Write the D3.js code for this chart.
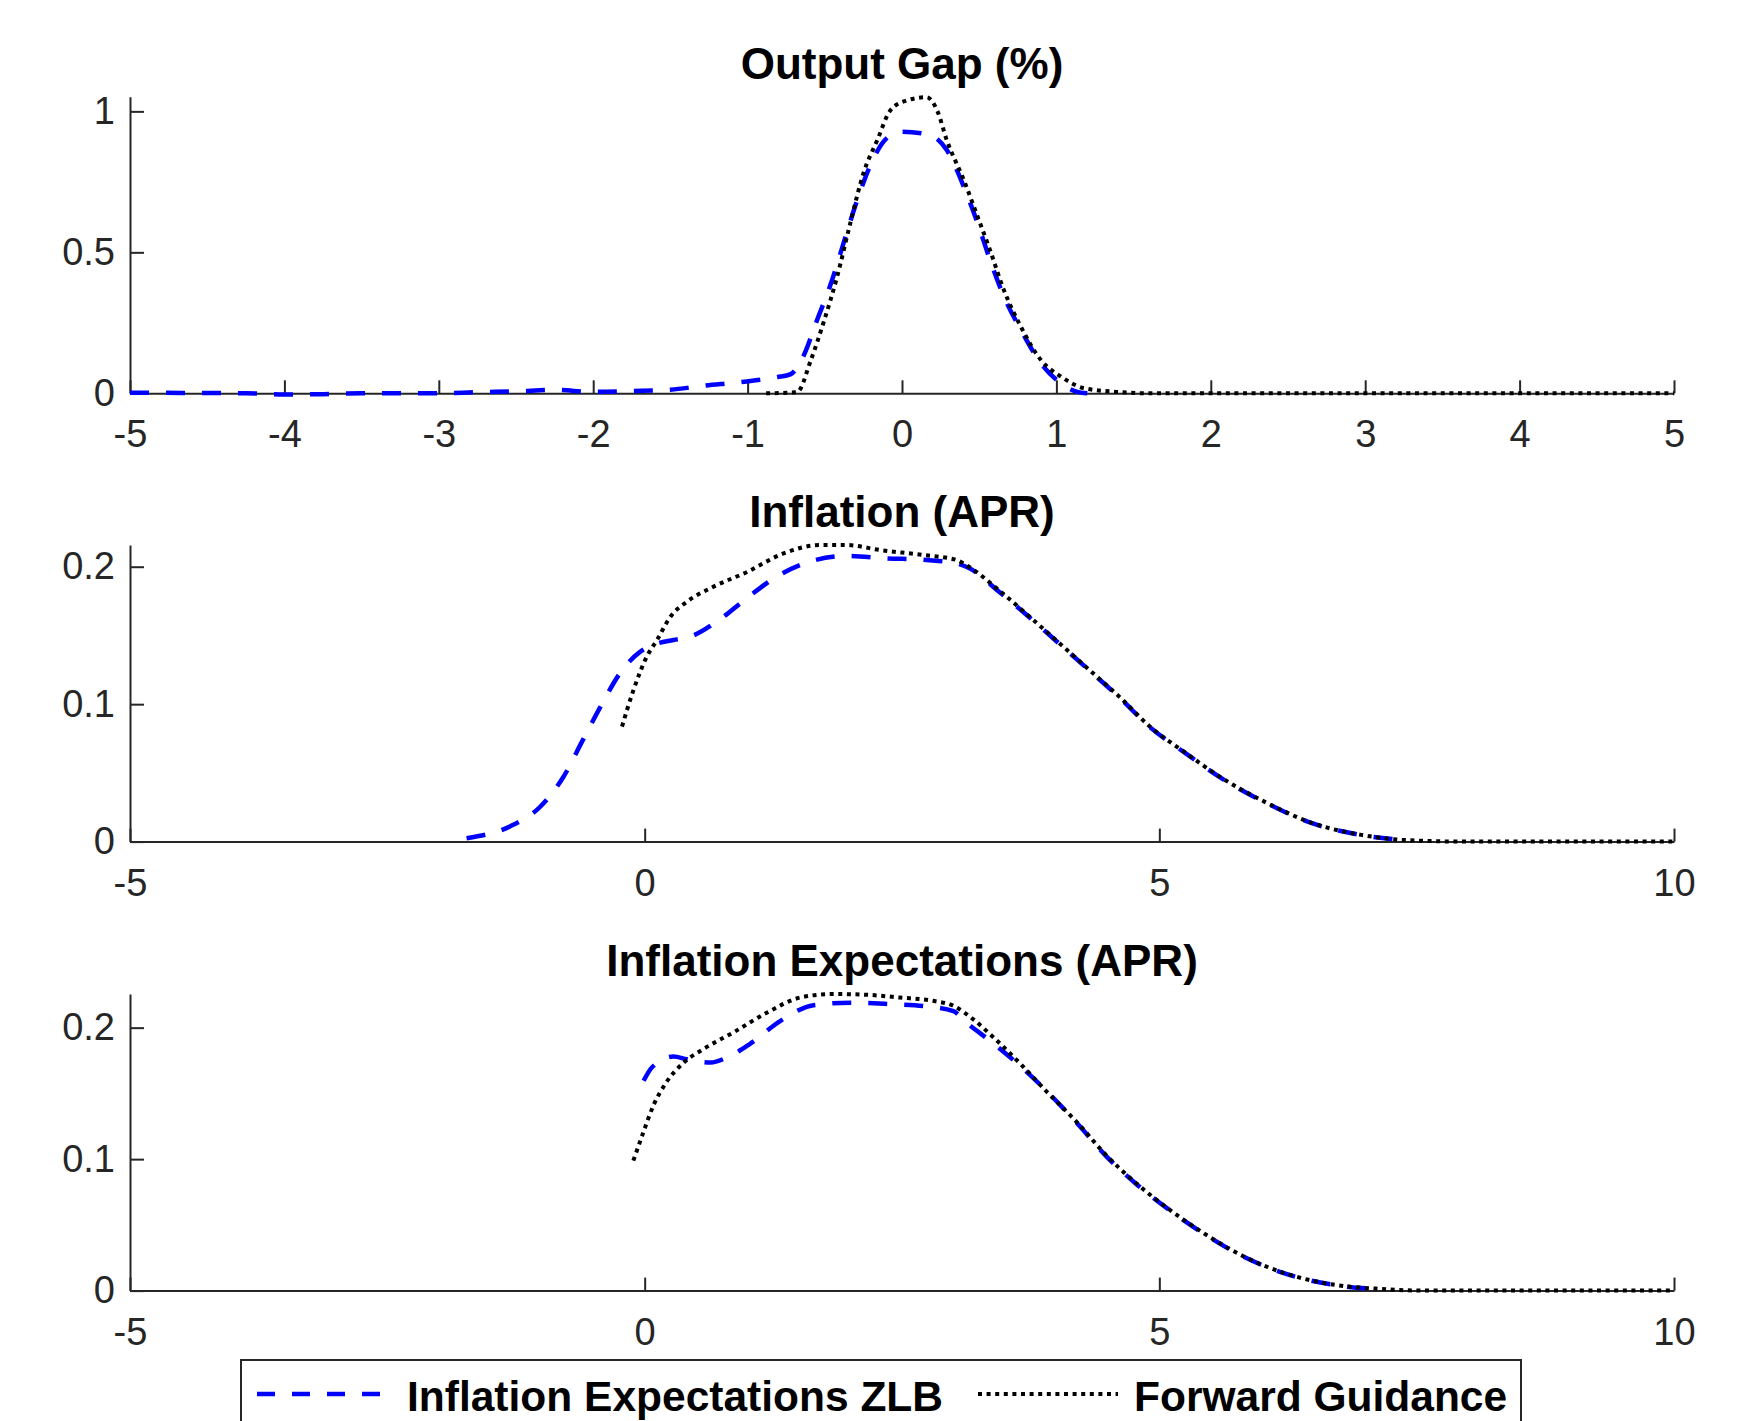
<!DOCTYPE html>
<html>
<head>
<meta charset="utf-8">
<script src="https://cdnjs.cloudflare.com/ajax/libs/d3/7.8.5/d3.min.js"></script>
<style>
  body { margin: 0; background: #ffffff; }
  svg { display: block; font-family: "Liberation Sans", Arial, Helvetica, sans-serif; }
</style>
</head>
<body>
<div id="chart"></div>
<script>
// ---- data: [x, value] pairs ----
var outputGapZLB = [[-5, 0.002], [-4.5, 0.001], [-4.25, 0.0], [-4, -0.004], [-3.75, -0.003], [-3.5, 0.0],
  [-3, 0.0], [-2.75, 0.004], [-2.5, 0.007], [-2.25, 0.012], [-2, 0.005], [-1.75, 0.008], [-1.5, 0.013],
  [-1.28, 0.027], [-1.04, 0.04], [-0.81, 0.057], [-0.72, 0.068], [-0.64, 0.13], [-0.55, 0.26],
  [-0.46, 0.39], [-0.38, 0.53], [-0.29, 0.685], [-0.2, 0.815], [-0.1, 0.904], [0, 0.928],
  [0.18, 0.916], [0.29, 0.863], [0.4, 0.733], [0.49, 0.603], [0.57, 0.473], [0.66, 0.343],
  [0.77, 0.225], [0.9, 0.106], [1.03, 0.035], [1.13, 0.006], [1.2, 0.0]];
var outputGapFG = [[-0.88, 0], [-0.68, 0.004], [-0.59, 0.118], [-0.51, 0.248], [-0.42, 0.414],
  [-0.335, 0.603], [-0.25, 0.78], [-0.16, 0.898], [-0.08, 1.0], [0.01, 1.035], [0.16, 1.05],
  [0.23, 1.0], [0.29, 0.898], [0.4, 0.757], [0.49, 0.626], [0.57, 0.508], [0.66, 0.366],
  [0.77, 0.236], [0.9, 0.118], [1.03, 0.059], [1.18, 0.018], [1.39, 0.005], [1.6, 0],
  [2, 0], [3, 0], [4, 0], [5, 0]];

var inflationZLB = [[-1.73, 0.0025], [-1.31, 0.011], [-1.02, 0.025], [-0.79, 0.047], [-0.6, 0.074],
  [-0.43, 0.098], [-0.24, 0.1225], [-0.045, 0.138], [0.08, 0.143], [0.28, 0.1467], [0.44, 0.149],
  [0.7, 0.16], [0.99, 0.177], [1.28, 0.1927], [1.6, 0.2036], [1.96, 0.2078], [2.35, 0.2061],
  [2.74, 0.2049], [3.03, 0.2024], [3.15, 0.199], [3.44, 0.182], [3.74, 0.163], [4.03, 0.1438],
  [4.32, 0.1245], [4.61, 0.105], [4.91, 0.0832], [5.26, 0.064], [5.61, 0.0458], [6.02, 0.0288],
  [6.49, 0.0132], [6.96, 0.0048], [7.4, 0.0010]];
var inflationFG = [[-0.22, 0.0837], [-0.11, 0.11], [0.02, 0.1345], [0.12, 0.1467], [0.25, 0.1636],
  [0.41, 0.1745], [0.67, 0.1855], [0.99, 0.196], [1.35, 0.2097], [1.7, 0.2158], [1.96, 0.2158],
  [2.29, 0.2121], [2.71, 0.2085], [3.03, 0.2049], [3.15, 0.2], [3.44, 0.183], [3.74, 0.1636],
  [4.03, 0.1443], [4.32, 0.1249], [4.61, 0.1055], [4.91, 0.0836], [5.26, 0.0643], [5.61, 0.0461],
  [6.02, 0.0291], [6.49, 0.0134], [6.96, 0.0049], [7.37, 0.0012], [7.96, 0], [9, 0], [10, 0]];

var expectZLB = [[-0.01, 0.1596], [0.07, 0.1697], [0.28, 0.178], [0.41, 0.176], [0.64, 0.1735],
  [0.8, 0.1773], [1.02, 0.1875], [1.32, 0.2052], [1.64, 0.2171], [2.0, 0.219], [2.38, 0.2179],
  [2.74, 0.2161], [3.0, 0.2125], [3.1, 0.2055], [3.38, 0.1885], [3.66, 0.17], [3.94, 0.149],
  [4.21, 0.1265], [4.49, 0.1017], [4.77, 0.0815], [5.1, 0.0612], [5.43, 0.0434], [5.82, 0.0257],
  [6.27, 0.0118], [6.71, 0.0042], [7.15, 0.0010]];
var expectFG = [[-0.11, 0.0988], [-0.013, 0.1204], [0.084, 0.1406], [0.21, 0.1583], [0.38, 0.1735],
  [0.57, 0.1837], [0.86, 0.1963], [1.19, 0.2115], [1.51, 0.2229], [1.83, 0.2256], [2.16, 0.225],
  [2.48, 0.2229], [2.8, 0.2204], [3.0, 0.2166], [3.19, 0.2065], [3.39, 0.1925], [3.65, 0.1725],
  [3.91, 0.151], [4.2, 0.128], [4.49, 0.1025], [4.77, 0.082], [5.1, 0.0615], [5.43, 0.0437],
  [5.82, 0.026], [6.27, 0.012], [6.71, 0.0043], [7.15, 0.0013], [7.54, 0], [8.5, 0], [10, 0]];

var titles = ["Output Gap (%)", "Inflation (APR)", "Inflation Expectations (APR)"];
var xDomains = [[-5, 5], [-5, 10], [-5, 10]];
var xTicks = [[-5, -4, -3, -2, -1, 0, 1, 2, 3, 4, 5], [-5, 0, 5, 10], [-5, 0, 5, 10]];
var yMax = [1.052, 0.2158, 0.2256];
var yTicks = [[0, 0.5, 1], [0, 0.1, 0.2], [0, 0.1, 0.2]];
var legendLabels = ["Inflation Expectations ZLB", "Forward Guidance"];

var zlbSeries = [outputGapZLB, inflationZLB, expectZLB];
var fgSeries = [outputGapFG, inflationFG, expectFG];

// ---- layout ----
var width = 1745, height = 1421;
var plotLeft = 130, plotRight = 1674;
var panelTop = [96.7, 545, 994];
var panelH = 296.6;
var axisColor = "#262626";

var svg = d3.select("#chart")
  .append("svg")
  .attr("width", width)
  .attr("height", height);

svg.append("rect")
  .attr("width", width)
  .attr("height", height)
  .attr("fill", "#ffffff");

// one panel per variable
function drawPanel(i) {
  var x = d3.scaleLinear().domain(xDomains[i]).range([plotLeft, plotRight]);
  var y = d3.scaleLinear().domain([0, yMax[i]]).range([panelTop[i] + panelH, panelTop[i]]);

  var g = svg.append("g").attr("class", "panel");

  // x axis, ticks pointing inward
  var xAxis = g.append("g")
    .attr("transform", "translate(0," + y(0) + ")")
    .call(d3.axisBottom(x)
      .tickValues(xTicks[i])
      .tickFormat(function (d) { return String(d); })
      .tickSizeInner(-13)
      .tickSizeOuter(0)
      .tickPadding(27));

  // y axis
  var yAxis = g.append("g")
    .attr("transform", "translate(" + x(xDomains[i][0]) + ",0)")
    .call(d3.axisLeft(y)
      .tickValues(yTicks[i])
      .tickFormat(function (d) { return String(d); })
      .tickSizeInner(-14)
      .tickSizeOuter(0)
      .tickPadding(15));

  [xAxis, yAxis].forEach(function (ax) {
    ax.select(".domain").attr("stroke", axisColor).attr("stroke-width", 2);
    ax.selectAll(".tick line").attr("stroke", axisColor).attr("stroke-width", 2);
    ax.selectAll(".tick text")
      .attr("fill", axisColor)
      .style("font-size", "38px");
  });

  var line = d3.line()
    .x(function (d) { return x(d[0]); })
    .y(function (d) { return y(d[1]); })
    .curve(d3.curveMonotoneX);

  g.append("path")
    .datum(zlbSeries[i])
    .attr("d", line)
    .attr("fill", "none")
    .attr("stroke", "#0000ff")
    .attr("stroke-width", 4.5)
    .attr("stroke-dasharray", "19,17");

  g.append("path")
    .datum(fgSeries[i])
    .attr("d", line)
    .attr("fill", "none")
    .attr("stroke", "#000000")
    .attr("stroke-width", 4)
    .attr("stroke-dasharray", "4,4.6");

  // title
  g.append("text")
    .attr("x", (plotLeft + plotRight) / 2)
    .attr("y", panelTop[i] - 18)
    .attr("text-anchor", "middle")
    .style("font-size", "44px")
    .style("font-weight", "bold")
    .attr("fill", "#000000")
    .text(titles[i]);
}

for (var i = 0; i < 3; i++) drawPanel(i);

// ---- legend (box runs off the bottom edge, as in the figure) ----
var legend = svg.append("g").attr("class", "legend");
legend.append("rect")
  .attr("x", 241)
  .attr("y", 1360)
  .attr("width", 1280)
  .attr("height", 100)
  .attr("fill", "#ffffff")
  .attr("stroke", axisColor)
  .attr("stroke-width", 2);

legend.append("line")
  .attr("x1", 257).attr("x2", 388)
  .attr("y1", 1394).attr("y2", 1394)
  .attr("stroke", "#0000ff")
  .attr("stroke-width", 4.5)
  .attr("stroke-dasharray", "18,17");
legend.append("text")
  .attr("x", 407).attr("y", 1411)
  .style("font-size", "42.5px")
  .style("font-weight", "bold")
  .text(legendLabels[0]);

legend.append("line")
  .attr("x1", 978).attr("x2", 1118)
  .attr("y1", 1394).attr("y2", 1394)
  .attr("stroke", "#000000")
  .attr("stroke-width", 4)
  .attr("stroke-dasharray", "4,4.6");
legend.append("text")
  .attr("x", 1134).attr("y", 1411)
  .style("font-size", "42.5px")
  .style("font-weight", "bold")
  .text(legendLabels[1]);
</script>
</body>
</html>
